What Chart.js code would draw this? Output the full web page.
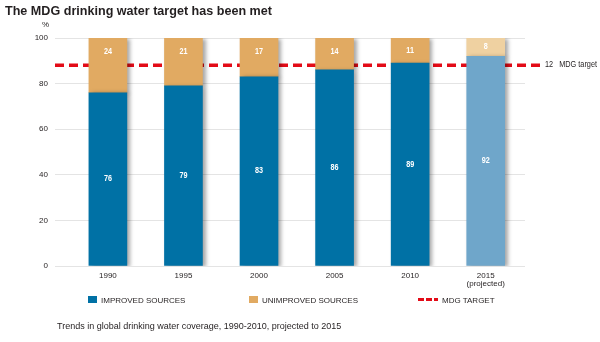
<!DOCTYPE html>
<html>
<head>
<meta charset="utf-8">
<script src="https://cdn.jsdelivr.net/npm/chart.js@4.4.1/dist/chart.umd.min.js"></script>
<style>
  html,body{margin:0;padding:0;background:#fff;}
  #wrap{position:relative;width:600px;height:342px;overflow:hidden;font-family:"Liberation Sans",Arial,sans-serif;color:#231f20;}
  #box{position:absolute;left:0;top:0;width:600px;height:342px;}
  .t{position:absolute;white-space:nowrap;transform-origin:0 0;}
  #title{left:5px;top:3px;font-weight:bold;font-size:13.5px;}
  #pct{left:42px;top:20px;font-size:8px;}
  #cap{left:57px;top:321px;font-size:9px;}
  .leg{position:absolute;top:296px;font-size:8px;white-space:nowrap;line-height:10px;}
  .sw{display:inline-block;width:9px;height:7px;vertical-align:middle;margin-right:4px;position:relative;top:-1px;}
  .dash{display:inline-block;width:20px;height:3px;vertical-align:middle;margin-right:4px;position:relative;top:-1px;
        background:repeating-linear-gradient(90deg,#e30b17 0 6px,transparent 6px 8px);}
  #mdg{left:545px;top:59px;font-size:8.5px;}
</style>
</head>
<body>
<div id="wrap">
  <div id="box"><canvas id="c"></canvas></div>
  <div class="t" id="title">The MDG drinking water target has been met</div>
  <div class="t" id="pct">%</div>
  <div class="t" id="mdg">12&nbsp;&nbsp;&nbsp;MDG target</div>
  <div id="legend"></div>
  <div class="t" id="cap">Trends in global drinking water coverage, 1990-2010, projected to 2015</div>
</div>
<script>
const categories = ["1990", "1995", "2000", "2005", "2010", ["2015", "(projected)"]];
const improved = [76, 79, 83, 86, 89, 92];
const unimproved = [24, 21, 17, 14, 11, 8];
const mdgTarget = 88;
const yTicks = [0, 20, 40, 60, 80, 100];

const improvedColors = ["#0071a5", "#0071a5", "#0071a5", "#0071a5", "#0071a5", "#6fa6ca"];
const unimprovedColors = ["#e1aa62", "#e1aa62", "#e1aa62", "#e1aa62", "#e1aa62", "#efd1a1"];
const legendItems = [
  {text: "IMPROVED SOURCES", color: "#0071a5", left: 88, type: "box"},
  {text: "UNIMPROVED SOURCES", color: "#e1aa62", left: 249, type: "box"},
  {text: "MDG TARGET", color: "#e30b17", left: 418, type: "dash"}
];

const sans = '"Liberation Sans",Arial,sans-serif';

// condense title and side label to the reference widths
function fitWidth(id, w) {
  const el = document.getElementById(id);
  const nat = el.getBoundingClientRect().width;
  el.style.transform = 'scaleX(' + (w / nat) + ')';
}
fitWidth('title', 267);
fitWidth('mdg', 52);

// legend
const lg = document.getElementById('legend');
legendItems.forEach(it => {
  const d = document.createElement('div');
  d.className = 'leg';
  d.style.left = it.left + 'px';
  const s = document.createElement('span');
  if (it.type === 'box') { s.className = 'sw'; s.style.background = it.color; }
  else { s.className = 'dash'; }
  d.appendChild(s);
  d.appendChild(document.createTextNode(it.text));
  lg.appendChild(d);
});

const shadowPlugin = {
  id: 'barShadow',
  beforeDatasetDraw(chart, args) {
    if (chart.data.datasets[args.index].type === 'line') return;
    const ctx = chart.ctx;
    ctx.save();
    ctx.shadowColor = 'rgba(0,0,0,0.35)';
    ctx.shadowBlur = 4;
    ctx.shadowOffsetX = 3;
    ctx.shadowOffsetY = 1;
  },
  afterDatasetDraw(chart, args) {
    if (chart.data.datasets[args.index].type === 'line') return;
    chart.ctx.restore();
  }
};

const labelPlugin = {
  id: 'barLabels',
  afterDatasetsDraw(chart) {
    const ctx = chart.ctx;
    ctx.save();
    ctx.fillStyle = '#fff';
    ctx.textAlign = 'center';
    ctx.textBaseline = 'middle';
    [0, 1].forEach(di => {
      const meta = chart.getDatasetMeta(di);
      const vals = chart.data.datasets[di].data;
      meta.data.forEach((bar, i) => {
        const top = Math.min(bar.y, bar.base), bot = Math.max(bar.y, bar.base);
        let y = (top + bot) / 2;
        if (di === 1) y = Math.min(y, top + 14);
        ctx.save();
        ctx.translate(bar.x, y);
        ctx.scale(0.85, 1);
        ctx.font = 'bold 8.5px ' + sans;
        ctx.fillText(String(vals[i].y), 0, 0);
        ctx.restore();
      });
    });
    ctx.restore();
  }
};

new Chart(document.getElementById('c'), {
  data: {
    datasets: [
      {
        type: 'bar', label: 'Improved sources',
        data: improved.map((v, i) => ({x: i, y: v})),
        backgroundColor: improvedColors, barThickness: 38, borderWidth: 0
      },
      {
        type: 'bar', label: 'Unimproved sources',
        data: unimproved.map((v, i) => ({x: i, y: v})),
        backgroundColor: unimprovedColors, barThickness: 38, borderWidth: 0
      },
      {
        type: 'line', label: 'MDG target',
        data: [{x: -0.70, y: mdgTarget}, {x: 5.74, y: mdgTarget}],
        borderColor: '#e30b17', borderWidth: 3.5, borderDash: [9, 5],
        pointRadius: 0, clip: false, stack: 'line', fill: false
      }
    ]
  },
  options: {
    responsive: true, maintainAspectRatio: false, animation: false,
    layout: {padding: {left: 0, right: 75, top: 38, bottom: 46}},
    plugins: {legend: {display: false}, tooltip: {enabled: false}},
    scales: {
      x: {
        type: 'linear', stacked: true, min: -0.70, max: 5.52, offset: false,
        grid: {display: false}, border: {display: false},
        afterBuildTicks(s) { s.ticks = categories.map((c, i) => ({value: i})); },
        afterFit(s) { s.height = 30; },
        ticks: {
          autoSkip: false, maxRotation: 0, padding: -3, color: '#231f20',
          font: {family: sans, size: 8, lineHeight: 1.1},
          callback: (v) => categories[v]
        }
      },
      y: {
        stacked: true, min: 0, max: 100,
        afterBuildTicks(s) { s.ticks = yTicks.map(v => ({value: v})); },
        afterFit(s) { s.width = 55; },
        grid: {color: '#e4e4e4', lineWidth: 1, drawTicks: false},
        border: {display: false},
        ticks: {padding: 7, color: '#231f20', font: {family: sans, size: 8}}
      }
    }
  },
  plugins: [shadowPlugin, labelPlugin]
});
</script>
</body>
</html>
